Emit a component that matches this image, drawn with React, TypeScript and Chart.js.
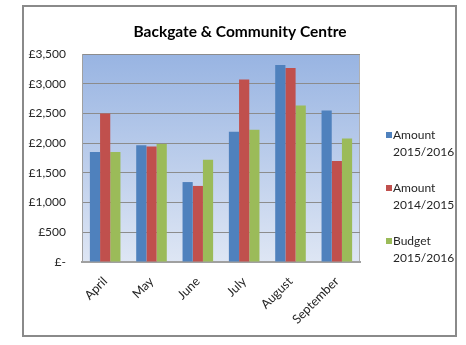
import React, { useEffect, useRef } from "react";
import { Chart, registerables } from "chart.js";

Chart.register(...registerables);

const categories = ["April", "May", "June", "July", "August", "September"];
const amount2015 = [1850, 1965, 1345, 2190, 3315, 2550];
const amount2014 = [2500, 1945, 1280, 3070, 3265, 1700];
const budget2015 = [1850, 1985, 1720, 2225, 2635, 2080];
const seriesNames = [["Amount", "2015/2016"], ["Amount", "2014/2015"], ["Budget", "2015/2016"]];
const seriesColors = ["#4F81BD", "#C0504D", "#9BBB59"];
const titleText = "Backgate & Community Centre";

const FONT = "Lato, 'Open Sans', sans-serif";

const decorPlugin = {
  id: "decor",
  beforeDraw(chart: any) {
    const { ctx, chartArea } = chart;
    ctx.save();
    ctx.fillStyle = "#ffffff";
    ctx.fillRect(0, 0, chart.width, chart.height);
    const g = ctx.createLinearGradient(0, chartArea.top, 0, chartArea.bottom);
    g.addColorStop(0, "#98B4E2");
    g.addColorStop(1, "#DEE6F4");
    ctx.fillStyle = g;
    ctx.fillRect(chartArea.left, chartArea.top, chartArea.right - chartArea.left, chartArea.bottom - chartArea.top);
    ctx.strokeStyle = "#B0B0B0";
    ctx.lineWidth = 1;
    ctx.strokeRect(chartArea.left + 0.5, chartArea.top + 0.5, chartArea.right - chartArea.left - 1, chartArea.bottom - chartArea.top);
    ctx.restore();
  },
  afterDraw(chart: any) {
    const { ctx } = chart;
    ctx.save();
    ctx.strokeStyle = "#8A8A8A";
    ctx.lineWidth = 2;
    ctx.strokeRect(23, 6, 433, 330);
    ctx.fillStyle = "#000000";
    ctx.font = `bold 15.5px ${FONT}`;
    ctx.textAlign = "center";
    ctx.textBaseline = "middle";
    ctx.fillText(titleText, 240, 32);
    ctx.font = `12px ${FONT}`;
    ctx.textAlign = "left";
    const tops = [135, 188, 241];
    seriesNames.forEach((lines, i) => {
      const y = tops[i];
      ctx.fillStyle = seriesColors[i];
      ctx.fillRect(386, y - 3, 6, 6);
      ctx.fillStyle = "#262626";
      lines.forEach((t, j) => ctx.fillText(t, 393, y + j * 17));
    });
    ctx.restore();
  },
};

export default function App() {
  const ref = useRef<HTMLCanvasElement>(null);
  useEffect(() => {
    if (!ref.current) return;
    const mk = (label: string, data: number[], color: string) => ({
      label,
      data,
      backgroundColor: color,
      borderWidth: 0,
      categoryPercentage: 0.66,
      barPercentage: 1,
    });
    const chart = new Chart(ref.current, {
      type: "bar",
      data: {
        labels: categories,
        datasets: [
          mk(seriesNames[0].join(" "), amount2015, seriesColors[0]),
          mk(seriesNames[1].join(" "), amount2014, seriesColors[1]),
          mk(seriesNames[2].join(" "), budget2015, seriesColors[2]),
        ],
      },
      options: {
        responsive: false,
        animation: false,
        layout: { padding: { top: 54, right: 106, left: 0, bottom: 0 } },
        plugins: {
          legend: { display: false },
          title: { display: false },
          tooltip: { enabled: false },
        },
        scales: {
          x: {
            grid: { display: false, drawTicks: false },
            border: { color: "#A0A0A0", width: 2 },
            ticks: {
              minRotation: 45,
              maxRotation: 45,
              padding: 12,
              color: "#262626",
              font: { family: FONT, size: 12.5 },
            },
            afterFit: (s: any) => {
              s.height = 345 - 262;
            },
          },
          y: {
            min: 0,
            max: 3500,
            grid: { color: "#8C8C8C", lineWidth: 1, drawTicks: false },
            border: { color: "#A0A0A0", width: 1 },
            ticks: {
              stepSize: 500,
              padding: 16,
              color: "#262626",
              font: { family: FONT, size: 12 },
              callback: (v: any) => (v === 0 ? "£-" : "£" + Number(v).toLocaleString("en-GB")),
            },
            afterFit: (s: any) => {
              s.width = 82;
            },
          },
        },
      },
      plugins: [decorPlugin],
    });
    return () => chart.destroy();
  }, []);
  return (
    <div style={{ position: "fixed", left: 0, top: 0, width: 466, height: 345 }}>
      <canvas ref={ref} width={466} height={345} style={{ display: "block", width: 466, height: 345 }} />
    </div>
  );
}
